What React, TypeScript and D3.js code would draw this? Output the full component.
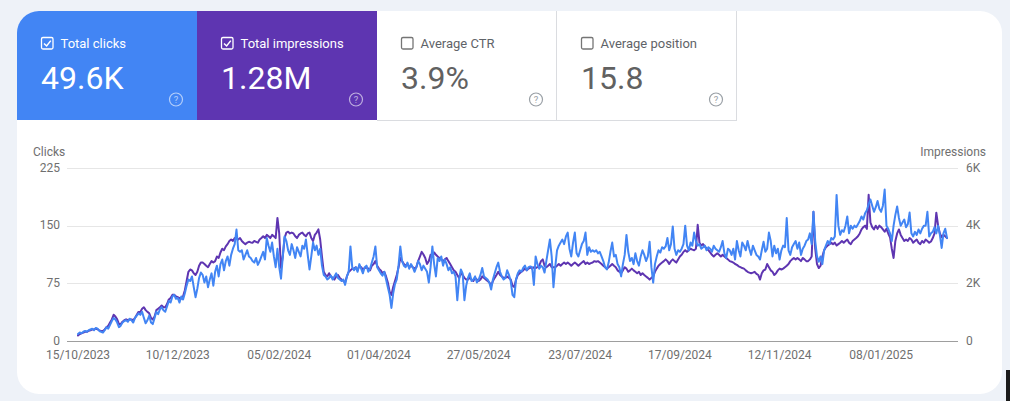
import React from "react";
import * as d3 from "d3";

const startDate = "2023-10-15";

// Daily clicks (one line per week)
const clicks: number[] = [
  9, 11, 10, 12, 13, 12, 14,
  15, 16, 14, 17, 16, 13, 12,
  11, 14, 18, 16, 21, 26, 30,
  28, 24, 18, 20, 24, 26, 27,
  25, 29, 27, 24, 30, 33, 36,
  34, 38, 30, 23, 27, 33, 24,
  22, 30, 38, 35, 41, 44, 40,
  38, 45, 52, 50, 58, 60, 55,
  56, 50, 58, 54, 62, 72, 80,
  78, 84, 70, 57, 68, 82, 89,
  86, 76, 84, 70, 80, 88, 72,
  90, 98, 84, 100, 106, 92, 104,
  110, 98, 112, 120, 126, 145, 118,
  116, 118, 106, 112, 118, 110, 108, 104,
  102, 108, 99, 104, 110, 116, 106,
  134, 124, 116, 128, 110, 96, 120,
  96, 81, 110, 136, 130, 118, 112,
  126, 118, 108, 122, 116, 110, 124,
  120, 132, 112, 93, 110, 128, 118,
  124, 112, 120, 98, 86, 84, 80,
  82, 85, 80, 84, 88, 82, 80,
  78, 80, 73, 84, 90, 123, 96,
  92, 96, 90, 100, 94, 88, 96,
  98, 90, 94, 102, 110, 123, 96,
  92, 88, 85, 90, 80, 70, 60,
  43, 62, 74, 80, 98, 123, 104,
  98, 96, 102, 94, 100, 96, 90,
  96, 104, 100, 92, 98, 94, 90, 76,
  96, 123, 100, 84, 108, 104, 110,
  98, 106, 100, 92, 96, 88, 90,
  84, 53, 80, 93, 88, 53, 72,
  82, 88, 78, 80, 84, 76, 80,
  86, 95, 84, 82, 80, 76, 67,
  80, 88, 96, 102, 90, 84, 80,
  82, 92, 86, 78, 60, 57, 80,
  88, 92, 90, 95, 98, 92, 96,
  97, 96, 73, 110, 100, 94, 98,
  96, 89, 104, 118, 132, 110, 70,
  96, 118, 124, 128, 132, 126, 136,
  141, 120, 110, 128, 141, 114, 110,
  118, 126, 130, 141, 112, 122, 116, 118,
  116, 118, 114, 116, 110, 104, 96,
  93, 102, 116, 128, 110, 112, 100,
  96, 84, 100, 112, 138, 116, 104,
  108, 100, 114, 104, 98, 110, 118,
  112, 104, 110, 129, 96, 76, 100,
  110, 118, 115, 122, 120, 123, 134,
  118, 126, 149, 120, 112, 118, 116,
  120, 126, 150, 124, 118, 128, 124,
  141, 130, 124, 126, 120, 122, 124,
  118, 122, 120, 116, 124, 120, 118,
  116, 122, 130, 114, 108, 120, 118,
  112, 120, 106, 130, 118, 110, 128,
  124, 118, 130, 120, 112, 124, 118,
  112, 110, 106, 118, 129, 116, 120, 141,
  130, 110, 124, 114, 120, 106, 118,
  124, 122, 160, 118, 112, 122, 126,
  130, 120, 128, 112, 120, 124, 130,
  132, 140, 126, 168, 130, 110, 103,
  110, 100, 118, 124, 130, 126, 134,
  132, 136, 190, 150, 138, 144, 142,
  150, 162, 140, 150, 146, 150, 148,
  152, 156, 162, 158, 166, 170, 178,
  184, 176, 168, 174, 182, 172, 168,
  176, 197, 150, 146, 140, 130, 150,
  164, 175, 160, 150, 154, 158, 148,
  152, 167, 140, 136, 142, 138, 145,
  140, 146, 150, 150, 168, 136, 140, 142,
  148, 140, 150, 138, 121, 140, 146,
  134,
];

// Daily impressions (one line per week)
const impressions: number[] = [
  190, 240, 270, 290, 320, 320, 350,
  370, 400, 400, 430, 400, 370, 350,
  350, 400, 480, 530, 640, 750, 910,
  850, 750, 590, 590, 670, 720, 750,
  720, 750, 750, 720, 800, 910, 1010,
  1010, 1120, 1170, 1070, 1010, 960, 800,
  750, 850, 1070, 1120, 1170, 1230, 1170,
  1170, 1280, 1440, 1490, 1600, 1600, 1550,
  1520, 1490, 1470, 1550, 1760, 2080, 2400,
  2480, 2450, 2350, 2290, 2400, 2610, 2720,
  2720, 2670, 2610, 2560, 2670, 2770, 2720,
  2770, 2930, 2880, 3070, 3200, 3150, 3280,
  3360, 3470, 3520, 3470, 3570, 3570, 3520,
  3570, 3470, 3410, 3360, 3410, 3440, 3420, 3410,
  3470, 3440, 3410, 3520, 3570, 3630, 3570,
  3680, 3630, 3570, 3680, 3630, 3570, 4270,
  3730, 2530, 2930, 3570, 3760, 3790, 3730,
  3760, 3730, 3630, 3570, 3680, 3730, 3760,
  3680, 3630, 3730, 3760, 3570, 3470, 3680,
  3760, 3870, 3520, 2930, 2400, 2290, 2240,
  2350, 2240, 2190, 2130, 2240, 2290, 2190,
  2130, 2080, 2030, 2240, 2400, 2450, 2510,
  2510, 2560, 2450, 2610, 2560, 2480, 2530,
  2560, 2510, 2450, 2610, 2670, 2770, 2610,
  2510, 2450, 2350, 2400, 2240, 2030, 1710,
  1600, 1870, 2080, 2290, 2560, 2880, 2770,
  2670, 2610, 2670, 2560, 2610, 2560, 2510,
  2560, 2770, 2930, 3090, 3000, 2880, 2670, 2770,
  2990, 2930, 3070, 2990, 2930, 2880, 2830,
  2770, 2830, 2880, 2770, 2670, 2560, 2450,
  2400, 2290, 2190, 2350, 2290, 2190, 2130,
  2130, 2190, 2130, 2080, 2190, 2130, 2080,
  2130, 2240, 2190, 2130, 2080, 2030, 1920,
  2080, 2190, 2290, 2400, 2290, 2240, 2190,
  2190, 2240, 2190, 2130, 1920, 1870, 2130,
  2290, 2350, 2400, 2450, 2510, 2450, 2510,
  2560, 2510, 2560, 2530, 2560, 2610, 2770,
  2830, 2610, 2560, 2610, 2670, 2560, 2560,
  2560, 2610, 2670, 2610, 2670, 2720, 2670,
  2720, 2670, 2610, 2670, 2720, 2670, 2610,
  2670, 2720, 2770, 2670, 2720, 2670, 2700, 2720,
  2770, 2750, 2770, 2720, 2670, 2610, 2560,
  2510, 2560, 2610, 2670, 2610, 2560, 2450,
  2400, 2350, 2450, 2560, 2510, 2400, 2450,
  2510, 2450, 2400, 2350, 2400, 2290, 2350,
  2290, 2240, 2190, 2130, 2190, 2240, 2400,
  2510, 2610, 2670, 2720, 2770, 2830, 2770,
  2670, 2770, 2830, 2770, 2720, 2830, 2930,
  2990, 3090, 3150, 3090, 3150, 3200, 3170,
  3150, 3200, 4030, 3410, 3310, 3360, 3280,
  3200, 3150, 3070, 2990, 2930, 2990, 3040,
  2990, 2930, 2990, 2930, 2880, 2830, 2770,
  2750, 2720, 2670, 2640, 2590, 2560, 2530,
  2510, 2450, 2400, 2370, 2350, 2370, 2400,
  2330, 2290, 2130, 2350, 2450, 2480, 2670, 2560,
  2450, 2400, 2290, 2350, 2450, 2510, 2480,
  2510, 2560, 2610, 2670, 2770, 2830, 2880,
  2830, 2880, 2830, 2770, 2880, 2830, 2770,
  2770, 2830, 2930, 4480, 3200, 2670, 2530,
  2610, 2930, 3150, 3250, 3310, 3360, 3410,
  3360, 3410, 3310, 3360, 3410, 3470, 3410,
  3470, 3520, 3410, 3360, 3470, 3520, 3570,
  3630, 3730, 3870, 3950, 4000, 3890, 5070,
  4110, 3950, 3870, 4000, 3890, 4000, 3950,
  3870, 3790, 3890, 3730, 3600, 3200, 2880,
  3470, 3730, 3870, 3680, 3570, 3470, 3520,
  3470, 3570, 3520, 3410, 3470, 3520, 3410,
  3360, 3470, 3410, 3520, 3470, 3410, 3450, 3570,
  3730, 4450, 4000, 3730, 3600, 3680, 3630,
  3570,
];

const xTickLabels = [
  "15/10/2023", "10/12/2023", "05/02/2024", "01/04/2024", "27/05/2024",
  "23/07/2024", "17/09/2024", "12/11/2024", "08/01/2025",
];
const clickTicks = [0, 75, 150, 225];
const impressionTicks = [0, 2000, 4000, 6000];
const impressionTickLabels = ["0", "2K", "4K", "6K"];

const metricLabels = ["Total clicks", "Total impressions", "Average CTR", "Average position"];
const metricValues = ["49.6K", "1.28M", "3.9%", "15.8"];
const metricSelected = [true, true, false, false];
const metricColors = ["#4285f4", "#5e35b1", "#ffffff", "#ffffff"];

const FONT = "Roboto, 'Noto Sans', Arial, sans-serif";
const CLICK_COLOR = "#4285f4";
const IMPR_COLOR = "#5e35b1";

export default function App() {
  const n = Math.min(clicks.length, impressions.length);
  const start = d3.timeParse("%Y-%m-%d")(startDate) as Date;
  const dates = d3.range(n).map((i) => d3.timeDay.offset(start, i));

  const plotLeft = 67;
  const plotRight = 958;
  const x = d3.scaleTime().domain([dates[0], dates[n - 1]]).range([78, 947]);
  const yC = d3.scaleLinear().domain([0, 225]).range([341, 168]);
  const yI = d3.scaleLinear().domain([0, 6000]).range([341, 168]);

  const lineC = d3
    .line<number>()
    .x((_, i) => x(dates[i]))
    .y((d) => yC(d));
  const lineI = d3
    .line<number>()
    .x((_, i) => x(dates[i]))
    .y((d) => yI(d));

  const parseTick = d3.timeParse("%d/%m/%Y");

  const tileX = d3.scaleBand<number>().domain(d3.range(4)).range([17, 737]);
  const tileW = tileX.bandwidth();

  const axisColor = "#6f6f6f";

  return (
    <svg
      width={1010}
      height={401}
      style={{ position: "absolute", left: 0, top: 0, display: "block" }}
      fontFamily={FONT}
    >
      <defs>
        <clipPath id="cardClip">
          <rect x={17} y={11} width={985} height={383} rx={22} ry={22} />
        </clipPath>
      </defs>
      <rect x={0} y={0} width={1010} height={401} fill="#eef2f8" />
      <rect x={17} y={11} width={985} height={383} rx={22} ry={22} fill="#ffffff" />

      <g clipPath="url(#cardClip)">
        {metricLabels.map((label, i) => {
          const tx = tileX(i) as number;
          const sel = metricSelected[i];
          const txtColor = sel ? "#ffffff" : "#5f6368";
          const valColor = sel ? "#ffffff" : "#616161";
          const iconColor = sel ? "rgba(255,255,255,0.6)" : "#9aa0a6";
          return (
            <g key={label}>
              <rect x={tx} y={11} width={tileW} height={109} fill={metricColors[i]} />
              {!sel && (
                <>
                  <line x1={tx + tileW - 0.5} x2={tx + tileW - 0.5} y1={11} y2={120} stroke="#dadce0" />
                  <line x1={tx} x2={tx + tileW} y1={120.5} y2={120.5} stroke="#dadce0" />
                </>
              )}
              <rect
                x={tx + 24.5}
                y={37.5}
                width={11.5}
                height={11.5}
                rx={1.5}
                fill="none"
                stroke={sel ? "#ffffff" : "#757575"}
                strokeWidth={1.3}
              />
              {sel && (
                <path
                  d={`M${tx + 27} ${43.5} L${tx + 29.6} ${46} L${tx + 33.8} ${40.6}`}
                  fill="none"
                  stroke="#ffffff"
                  strokeWidth={1.5}
                />
              )}
              <text x={tx + 43.5} y={47.5} fontSize={13} fill={txtColor}>
                {label}
              </text>
              <text x={tx + 24} y={89} fontSize={32} fill={valColor}>
                {metricValues[i]}
              </text>
              <circle cx={tx + 159} cy={99.5} r={6.5} fill="none" stroke={iconColor} strokeWidth={1.2} />
              <text x={tx + 159} y={103} fontSize={9.5} textAnchor="middle" fill={iconColor}>
                ?
              </text>
            </g>
          );
        })}
      </g>

      {/* axis titles */}
      <text x={33} y={156} fontSize={12} fill={axisColor}>
        Clicks
      </text>
      <text x={986} y={156} fontSize={12} fill={axisColor} textAnchor="end">
        Impressions
      </text>

      {/* gridlines */}
      {clickTicks.map((t) => (
        <line
          key={"g" + t}
          x1={plotLeft}
          x2={plotRight}
          y1={Math.round(yC(t)) + 0.5}
          y2={Math.round(yC(t)) + 0.5}
          stroke={t === 0 ? "#9e9e9e" : "#e6e6e6"}
          strokeWidth={1}
        />
      ))}

      {/* left ticks */}
      {clickTicks.map((t) => (
        <text key={"l" + t} x={60} y={yC(t) + 3.5} fontSize={12} fill={axisColor} textAnchor="end">
          {t}
        </text>
      ))}

      {/* right ticks */}
      {impressionTicks.map((t, i) => (
        <text key={"r" + t} x={966} y={yI(t) + 3.5} fontSize={12} fill={axisColor}>
          {impressionTickLabels[i]}
        </text>
      ))}

      {/* x tick labels */}
      {xTickLabels.map((lab) => {
        const d = parseTick(lab) as Date;
        return (
          <text key={lab} x={x(d)} y={358.5} fontSize={12} fill={axisColor} textAnchor="middle">
            {lab}
          </text>
        );
      })}

      {/* series */}
      <path
        d={lineI(impressions.slice(0, n)) || ""}
        fill="none"
        stroke={IMPR_COLOR}
        strokeWidth={2}
        strokeLinejoin="round"
        strokeLinecap="round"
      />
      <path
        d={lineC(clicks.slice(0, n)) || ""}
        fill="none"
        stroke={CLICK_COLOR}
        strokeWidth={2}
        strokeLinejoin="round"
        strokeLinecap="round"
      />

      <rect x={1006} y={370} width={4} height={31} fill="#1a1a1a" />
    </svg>
  );
}
